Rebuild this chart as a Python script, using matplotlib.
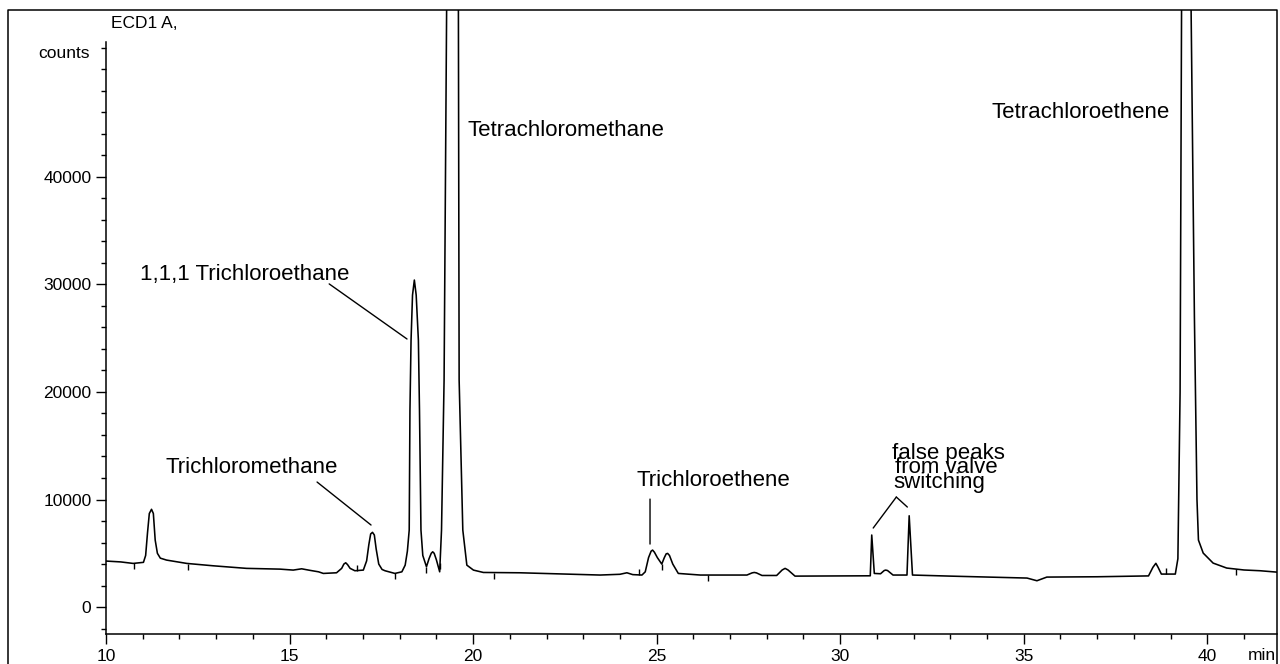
import matplotlib
matplotlib.use("Agg")
import numpy as np
import matplotlib.pyplot as plt
from matplotlib.lines import Line2D
from matplotlib.ticker import FixedLocator, MultipleLocator

plt.rcParams['font.family'] = ['Liberation Sans', 'DejaVu Sans']

# ECD1 A trace: retention time (min) and detector response (counts)
time_min = [
    10.00, 10.40, 10.74, 11.02, 11.08, 11.13, 11.18, 11.24, 11.29, 11.34,
    11.40, 11.48, 11.65, 12.20, 12.92, 13.83, 14.74, 15.10, 15.33, 15.55,
    15.79, 15.92, 16.28, 16.42, 16.48, 16.53, 16.58, 16.65, 16.78, 17.01,
    17.10, 17.16, 17.21, 17.26, 17.31, 17.36, 17.43, 17.52, 17.60, 17.87,
    18.06, 18.15, 18.21, 18.26, 18.28, 18.31, 18.35, 18.40, 18.45, 18.51,
    18.54, 18.58, 18.63, 18.73, 18.80, 18.86, 18.90, 18.94, 19.00, 19.09,
    19.14, 19.21, 19.28, 19.44, 19.60, 19.62, 19.72, 19.83, 20.01, 20.28,
    21.28, 22.40, 23.46, 24.00, 24.19, 24.35, 24.60, 24.69, 24.78, 24.85,
    24.89, 24.94, 25.02, 25.14, 25.21, 25.26, 25.30, 25.35, 25.44, 25.59,
    26.19, 27.46, 27.60, 27.66, 27.72, 27.87, 28.27, 28.42, 28.50, 28.58,
    28.77, 30.00, 30.82, 30.86, 30.93, 31.10, 31.20, 31.24, 31.29, 31.44,
    31.82, 31.88, 31.97, 33.00, 35.09, 35.36, 35.63, 37.00, 38.40, 38.52,
    38.60, 38.66, 38.75, 39.13, 39.20, 39.26, 39.30, 39.43, 39.56, 39.65,
    39.72, 39.76, 39.89, 40.16, 40.53, 41.00, 41.44, 41.90,
]
counts = [
    4280, 4200, 4060, 4160, 4800, 6880, 8700, 9090, 8700, 6230,
    5000, 4550, 4370, 4060, 3840, 3600, 3530, 3440, 3560, 3420,
    3280, 3130, 3190, 3600, 4000, 4120, 3950, 3600, 3380, 3440,
    4300, 5800, 6800, 6950, 6700, 5400, 4000, 3500, 3380, 3130,
    3280, 3900, 5200, 7160, 18300, 24800, 29000, 30400, 29000, 24800,
    18300, 7160, 4800, 3750, 4500, 5000, 5140, 5000, 4400, 3280,
    7160, 21100, 55500, 200000, 55500, 21100, 7160, 3900, 3440, 3220,
    3190, 3080, 2980, 3050, 3190, 3020, 2980, 3280, 4600, 5200,
    5300, 5100, 4600, 4000, 4600, 4950, 4990, 4800, 4000, 3130,
    2980, 2980, 3180, 3220, 3180, 2940, 2940, 3450, 3600, 3450,
    2880, 2900, 2910, 6700, 3130, 3100, 3400, 3440, 3400, 2980,
    2980, 8490, 2980, 2880, 2700, 2450, 2790, 2820, 2900, 3700,
    4070, 3700, 3070, 3070, 4500, 20000, 55500, 200000, 55500, 27000,
    10000, 6230, 5020, 4090, 3630, 3450, 3380, 3250,
]

# integration event marks drawn on the trace
mark_up_min = [16.83, 24.52, 38.87]
mark_down_min = [10.76, 12.23, 17.88, 18.73, 19.10, 20.58, 25.14, 26.39, 40.79]

x_major_ticks = [10, 15, 20, 25, 30, 35, 40]
y_major_ticks = [0, 10000, 20000, 30000, 40000]
y_minor_ticks = list(range(-2000, 52001, 2000))

W, H = 1280, 664
fig = plt.figure(figsize=(W / 100, H / 100), dpi=100)
fig.patch.set_facecolor('white')

ax = fig.add_axes([106 / W, (H - 634) / H, (1277 - 106) / W, (634 - 10) / H])
ax.set_facecolor('white')

ax.plot(time_min, counts, color='black', lw=1.15, solid_joinstyle='round')

t_arr = np.array(time_min)
c_arr = np.array(counts)
ax.plot(mark_up_min, np.interp(mark_up_min, t_arr, c_arr), ls='none',
        marker=2, ms=4, mew=1, color='black')
ax.plot(mark_down_min, np.interp(mark_down_min, t_arr, c_arr), ls='none',
        marker=3, ms=4, mew=1, color='black')

ax.set_xlim(10, 41.9)
ax.set_ylim(-2500, 55500)

for side in ('top', 'right'):
    ax.spines[side].set_visible(False)
ax.spines['left'].set_bounds(-2500, 52500)
for side in ('left', 'bottom'):
    ax.spines[side].set_linewidth(1.1)

ax.xaxis.set_major_locator(FixedLocator(x_major_ticks))
ax.xaxis.set_minor_locator(MultipleLocator(1))
ax.yaxis.set_major_locator(FixedLocator(y_major_ticks))
ax.yaxis.set_minor_locator(FixedLocator(y_minor_ticks))
ax.tick_params(which='both', direction='out', width=1, colors='black')
ax.tick_params(which='major', length=7, labelsize=12.5, pad=3.5)
ax.tick_params(which='minor', length=3.5)

# page frame around the chromatogram
fig.add_artist(Line2D([8 / W, 8 / W, 1277 / W, 1277 / W],
                      [0, 1 - 10 / H, 1 - 10 / H, 0],
                      transform=fig.transFigure, color='black', lw=1.1))

fig.text(111 / W, 1 - 24 / H, 'ECD1 A,', ha='left', va='center', fontsize=12.5)
fig.text(90 / W, 1 - 54 / H, 'counts', ha='right', va='center', fontsize=12.5)
fig.text(1276 / W, 1 - 655 / H, 'min', ha='right', va='center', fontsize=12.5)

label_size = 16
leader = dict(arrowstyle='-', lw=1.0, color='black', shrinkA=0, shrinkB=0)

ax.text(10.93, 30880, '1,1,1 Trichloroethane', fontsize=label_size, va='center', ha='left')
ax.annotate('', xy=(18.20, 24920), xytext=(16.08, 30040), arrowprops=leader)

ax.text(11.61, 12930, 'Trichloromethane', fontsize=label_size, va='center', ha='left')
ax.annotate('', xy=(17.22, 7630), xytext=(15.75, 11625), arrowprops=leader)

ax.text(19.86, 44270, 'Tetrachloromethane', fontsize=label_size, va='center', ha='left')

ax.text(24.44, 11810, 'Trichloroethene', fontsize=label_size, va='center', ha='left')
ax.annotate('', xy=(24.82, 5860), xytext=(24.82, 10040), arrowprops=leader)

# three tightly stacked lines, as printed on the original trace
ax.text(31.42, 14320, 'false peaks', fontsize=label_size, va='center', ha='left')
ax.text(31.50, 12930, 'from valve', fontsize=label_size, va='center', ha='left')
ax.text(31.45, 11625, 'switching', fontsize=label_size, va='center', ha='left')
ax.annotate('', xy=(30.90, 7350), xytext=(31.53, 10230), arrowprops=leader)
ax.annotate('', xy=(31.83, 9300), xytext=(31.53, 10230), arrowprops=leader)

ax.text(38.99, 45940, 'Tetrachloroethene', fontsize=label_size, va='center', ha='right')

fig.savefig('out.png', dpi=100, facecolor='white')
